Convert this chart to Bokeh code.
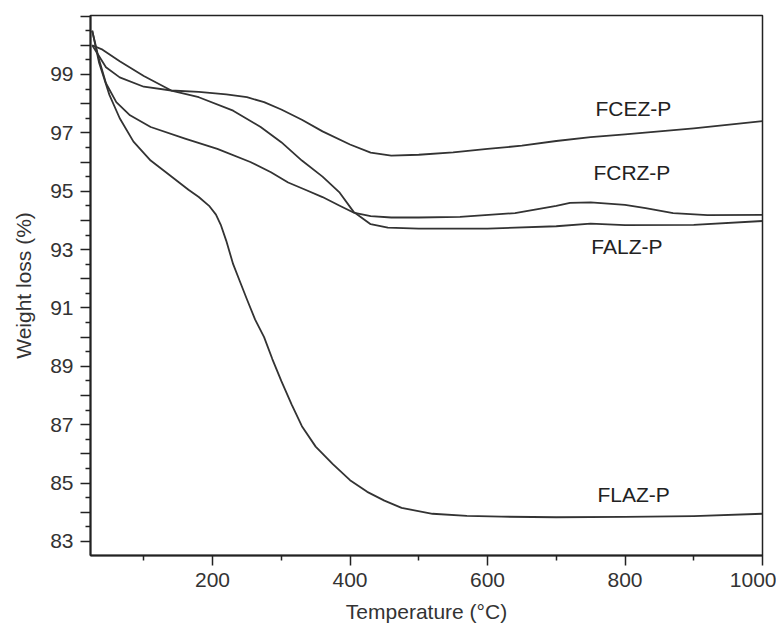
from bokeh.plotting import figure
from bokeh.models import FixedTicker, Range1d, Label
from bokeh.embed import file_html
from bokeh.resources import INLINE

# ---- data (Temperature °C, Weight %) ----
flaz_t = [25, 35, 50, 65, 85, 110, 135, 165, 180, 195, 205, 212, 220, 230, 240, 250, 262, 275, 287, 300, 315, 330, 350, 375, 400, 425, 450, 475, 520, 570, 620, 700, 800, 900, 1000]
flaz_w = [100.5, 99.4, 98.3, 97.5, 96.7, 96.05, 95.6, 95.05, 94.8, 94.5, 94.2, 93.85, 93.3, 92.5, 91.9, 91.3, 90.6, 90.0, 89.25, 88.5, 87.7, 86.95, 86.25, 85.65, 85.1, 84.7, 84.4, 84.15, 83.95, 83.88, 83.85, 83.83, 83.84, 83.87, 83.95]

fcez_t = [25, 45, 65, 100, 140, 180, 220, 250, 275, 300, 330, 360, 400, 430, 460, 500, 550, 600, 650, 700, 750, 800, 900, 1000]
fcez_w = [100.0, 99.25, 98.9, 98.58, 98.45, 98.4, 98.32, 98.22, 98.05, 97.8, 97.45, 97.05, 96.6, 96.32, 96.22, 96.25, 96.33, 96.45, 96.56, 96.72, 96.85, 96.95, 97.15, 97.4]

falz_t = [25, 40, 65, 100, 140, 180, 230, 270, 300, 330, 360, 385, 405, 430, 455, 500, 600, 700, 750, 800, 900, 1000]
falz_w = [100.0, 99.85, 99.45, 98.95, 98.45, 98.22, 97.76, 97.2, 96.68, 96.05, 95.5, 94.95, 94.3, 93.87, 93.75, 93.72, 93.72, 93.8, 93.89, 93.84, 93.85, 93.98]

fcrz_t = [25, 35, 45, 60, 80, 110, 160, 207, 255, 285, 310, 335, 360, 385, 405, 430, 460, 500, 560, 640, 700, 720, 750, 800, 830, 870, 920, 1000]
fcrz_w = [100.5, 99.5, 98.7, 98.05, 97.6, 97.2, 96.8, 96.45, 96.0, 95.65, 95.3, 95.05, 94.8, 94.5, 94.27, 94.15, 94.1, 94.1, 94.12, 94.25, 94.5, 94.6, 94.62, 94.53, 94.42, 94.25, 94.18, 94.19]

series_names = ["FCEZ-P", "FCRZ-P", "FALZ-P", "FLAZ-P"]
label_t = [757, 754, 751, 760]
label_w = [97.83, 95.63, 93.12, 84.6]

x_major = [200, 400, 600, 800, 1000]
x_minor = [100, 300, 500, 700, 900]
y_major = list(range(83, 102))
y_minor = [v + 0.5 for v in range(82, 101)]
y_labels = {v: (str(v) if (v % 2 == 1 and v <= 99) else "") for v in y_major}

FONT = "Liberation Sans"
LINE = "#333333"

p = figure(width=776, height=628, output_backend="svg", toolbar_location=None,
           x_range=Range1d(22.5, 1000), y_range=Range1d(82.52, 101.02),
           min_border_left=90, min_border_right=14, min_border_top=15, min_border_bottom=73)

p.background_fill_color = "white"
p.border_fill_color = "white"
p.outline_line_color = "#222222"
p.outline_line_width = 1.5
p.xgrid.visible = False
p.ygrid.visible = False

for t, w in [(fcez_t, fcez_w), (fcrz_t, fcrz_w), (falz_t, falz_w), (flaz_t, flaz_w)]:
    p.line(t, w, line_color=LINE, line_width=1.8, line_join="round")

for name, t, w in zip(series_names, label_t, label_w):
    p.add_layout(Label(x=t, y=w, text=name, text_font=FONT, text_font_size="21px",
                       text_color="#222222", text_align="left", text_baseline="middle"))

xa = p.xaxis[0]
xa.ticker = FixedTicker(ticks=x_major, minor_ticks=x_minor)
ya = p.yaxis[0]
ya.ticker = FixedTicker(ticks=y_major, minor_ticks=y_minor)
ya.major_label_overrides = y_labels

for ax in (xa, ya):
    ax.axis_line_color = "#222222"
    ax.axis_line_width = 2
    ax.major_tick_line_color = "#222222"
    ax.major_tick_line_width = 1.5
    ax.minor_tick_line_color = "#222222"
    ax.minor_tick_line_width = 1.5
    ax.major_tick_in = 0
    ax.major_tick_out = 10
    ax.minor_tick_in = 0
    ax.minor_tick_out = 5
    ax.major_label_text_font = FONT
    ax.major_label_text_font_size = "21px"
    ax.major_label_text_color = "#333333"
    ax.axis_label_text_font = FONT
    ax.axis_label_text_font_size = "21px"
    ax.axis_label_text_font_style = "normal"
    ax.axis_label_text_color = "#333333"

xa.axis_label = "Temperature (°C)"
xa.major_label_standoff = 7
xa.axis_label_standoff = 10
ya.axis_label = "Weight loss (%)"
ya.major_label_standoff = 7
ya.axis_label_standoff = 12

open("out.html", "w").write(file_html(p, INLINE))
